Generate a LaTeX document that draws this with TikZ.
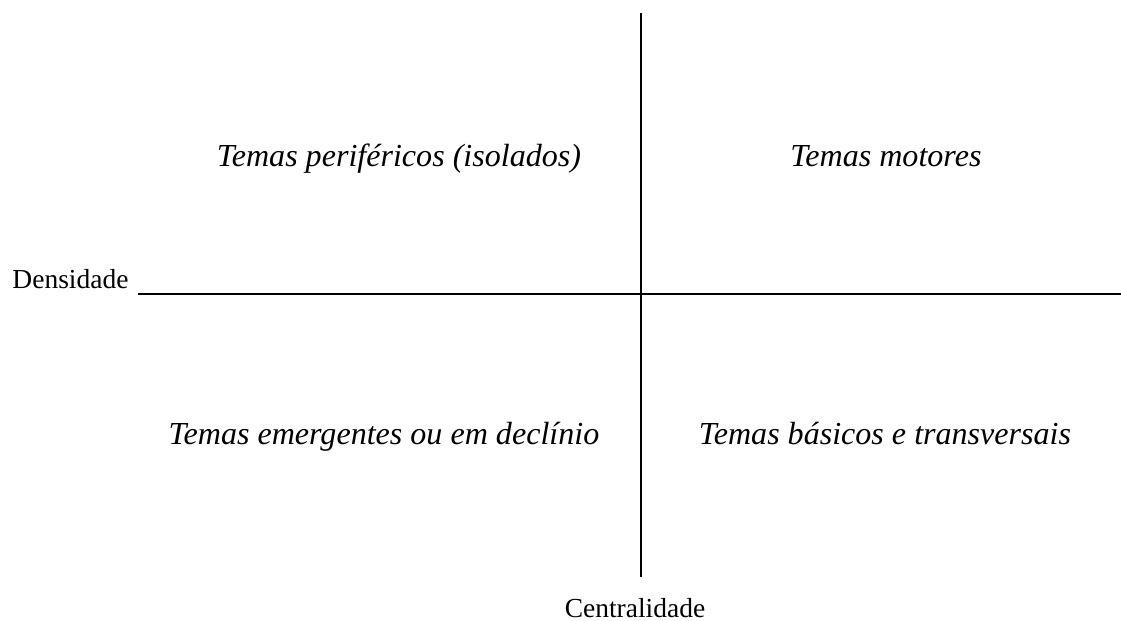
\documentclass[tikz,border=0pt]{standalone}
\usepackage{fontspec}
\setmainfont{Liberation Serif}
\usepackage{tikz}
\usetikzlibrary{positioning}

\begin{document}
\begin{tikzpicture}[
		x=0.4364pt, y=-0.4364pt,
		quad/.style={inner sep=0pt, anchor=base, font=\fontsize{14}{17}\selectfont\itshape},
		axislbl/.style={inner sep=0pt, font=\fontsize{12}{14}\selectfont},
		axis/.style={line width=0.9pt}
		]
		
		% Frame of the picture
		\useasboundingbox (0,0) rectangle (1121,620);
		
		% Axis end points
		\coordinate (top) at (641,13);
		\coordinate (bottom) at (641,577);
		\coordinate (left) at (138,294);
		\coordinate (right) at (1121,294);
		
		% Axes
		\draw[axis] (top) -- (bottom);
		\draw[axis] (left) -- (right);
		
		% Axis labels
		\node[axislbl, anchor=base west] (dens) at (12,288) {Densidade};
		\node[axislbl, anchor=base] (cent) at (635,617) {Centralidade};
		
		% Quadrants
		\node[quad] (perif) at (399,166) {Temas periféricos (isolados)};
		\node[quad] (motor) at (886,166) {Temas motores};
		\node[quad] (emerg) at (384,444) {Temas emergentes ou em declínio};
		\node[quad] (basic) at (885,444) {Temas básicos e transversais};
		
	\end{tikzpicture}
\end{document}
